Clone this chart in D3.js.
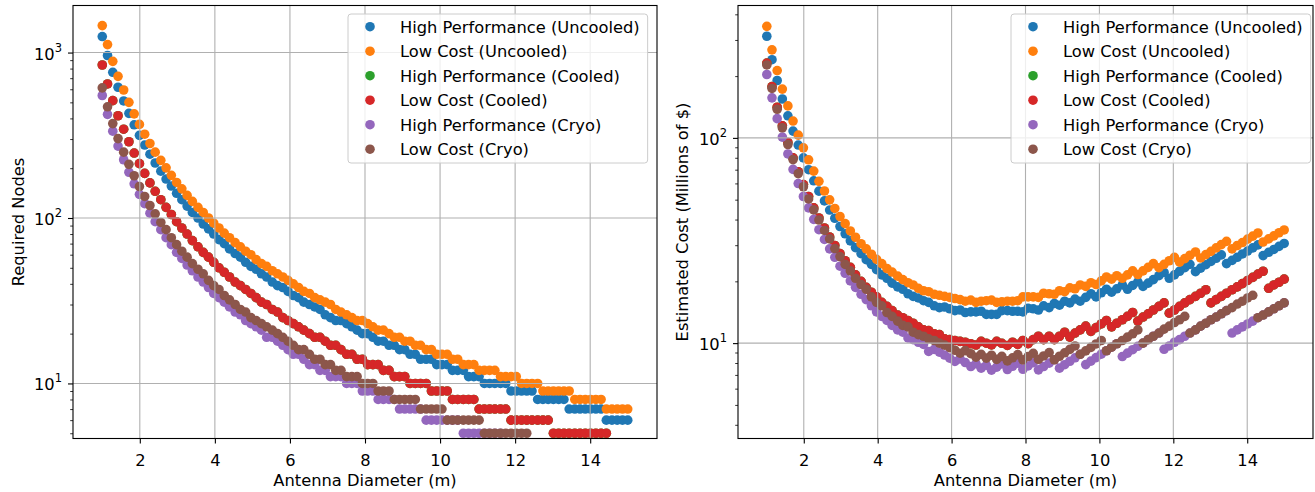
<!DOCTYPE html>
<html>
<head>
<meta charset="utf-8">
<script src="https://cdn.jsdelivr.net/npm/d3@7"></script>
<style>
    body { margin: 0; background: #fff; }
    svg { display: block; font-family: "DejaVu Sans", sans-serif; }
</style>
</head>
<body>
<svg id="chart" width="1315" height="492"></svg>
<script>
const antennaDiameter = [
    1.00, 1.14, 1.28, 1.42, 1.57, 1.71, 1.85, 1.99, 2.13, 2.27,
    2.41, 2.56, 2.70, 2.84, 2.98, 3.12, 3.26, 3.40, 3.55, 3.69,
    3.83, 3.97, 4.11, 4.25, 4.39, 4.54, 4.68, 4.82, 4.96, 5.10,
    5.24, 5.38, 5.53, 5.67, 5.81, 5.95, 6.09, 6.23, 6.37, 6.52,
    6.66, 6.80, 6.94, 7.08, 7.22, 7.36, 7.51, 7.65, 7.79, 7.93,
    8.07, 8.21, 8.35, 8.49, 8.64, 8.78, 8.92, 9.06, 9.20, 9.34,
    9.48, 9.63, 9.77, 9.91, 10.05, 10.19, 10.33, 10.47, 10.62, 10.76,
    10.90, 11.04, 11.18, 11.32, 11.46, 11.61, 11.75, 11.89, 12.03, 12.17,
    12.31, 12.45, 12.60, 12.74, 12.88, 13.02, 13.16, 13.30, 13.44, 13.59,
    13.73, 13.87, 14.01, 14.15, 14.29, 14.43, 14.58, 14.72, 14.86, 15.00
];

const seriesNames = [
    'High Performance (Uncooled)', 'Low Cost (Uncooled)',
    'High Performance (Cooled)', 'Low Cost (Cooled)',
    'High Performance (Cryo)', 'Low Cost (Cryo)'
];
const seriesColors = ['#1f77b4', '#ff7f0e', '#2ca02c', '#d62728', '#9467bd', '#8c564b'];

// required nodes (points below the axis floor are not drawn in the original)
const nodesHPUncooled = [
    1250, 960, 760, 617, 510, 429, 366, 316, 276, 243,
    215, 192, 172, 156, 141, 129, 118, 108, 100, 92,
    86, 80, 74, 70, 65, 61, 58, 54, 51, 49,
    46, 44, 41, 39, 38, 36, 34, 33, 31, 30,
    29, 28, 26, 25, 24, 24, 23, 22, 21, 20,
    20, 19, 18, 18, 17, 17, 16, 16, 15, 15,
    14, 14, 14, 13, 13, 13, 12, 12, 12, 11,
    11, 11, 10, 10, 10, 10, 10, 9, 9, 9,
    9, 9, 8, 8, 8, 8, 8, 8, 7, 7,
    7, 7, 7, 7, 7, 6, 6, 6, 6, 6
];
const nodesLCUncooled = [
    1455, 1117, 885, 718, 594, 500, 426, 368, 321, 282,
    250, 223, 201, 181, 164, 150, 137, 126, 116, 108,
    100, 93, 87, 81, 76, 71, 67, 63, 60, 56,
    53, 51, 48, 46, 44, 42, 40, 38, 36, 35,
    33, 32, 31, 30, 28, 27, 26, 25, 24, 24,
    23, 22, 21, 21, 20, 19, 19, 18, 18, 17,
    17, 16, 16, 15, 15, 15, 14, 14, 13, 13,
    13, 12, 12, 12, 12, 11, 11, 11, 11, 10,
    10, 10, 10, 9, 9, 9, 9, 9, 9, 8,
    8, 8, 8, 8, 8, 7, 7, 7, 7, 7
];
const nodesHPCooled = [
    841, 646, 512, 415, 344, 289, 247, 213, 186, 163,
    145, 129, 116, 105, 95, 87, 80, 73, 67, 62,
    58, 54, 50, 47, 44, 41, 39, 37, 35, 33,
    31, 30, 28, 27, 25, 24, 23, 22, 21, 20,
    19, 19, 18, 17, 17, 16, 15, 15, 14, 14,
    13, 13, 13, 12, 12, 11, 11, 11, 10, 10,
    10, 10, 9, 9, 9, 9, 8, 8, 8, 8,
    8, 7, 7, 7, 7, 7, 7, 6, 6, 6,
    6, 6, 6, 6, 6, 5, 5, 5, 5, 5,
    5, 5, 5, 5, 5, 5, null, null, null, null
];
const nodesLCCooled = [
    841, 646, 512, 415, 344, 289, 247, 213, 186, 163,
    145, 129, 116, 105, 95, 87, 80, 73, 67, 62,
    58, 54, 50, 47, 44, 41, 39, 37, 35, 33,
    31, 30, 28, 27, 25, 24, 23, 22, 21, 20,
    19, 19, 18, 17, 17, 16, 15, 15, 14, 14,
    13, 13, 13, 12, 12, 11, 11, 11, 10, 10,
    10, 10, 9, 9, 9, 9, 8, 8, 8, 8,
    8, 7, 7, 7, 7, 7, 7, 6, 6, 6,
    6, 6, 6, 6, 6, 5, 5, 5, 5, 5,
    5, 5, 5, 5, 5, 5, null, null, null, null
];
const nodesHPCryo = [
    550, 423, 335, 272, 225, 189, 161, 139, 122, 107,
    95, 85, 76, 69, 62, 57, 52, 48, 44, 41,
    38, 35, 33, 31, 29, 27, 26, 24, 23, 22,
    21, 19, 19, 18, 17, 16, 15, 15, 14, 13,
    13, 12, 12, 11, 11, 11, 10, 10, 10, 9,
    9, 9, 8, 8, 8, 8, 7, 7, 7, 7,
    7, 6, 6, 6, 6, 6, 6, 6, 5, 5,
    5, 5, 5, 5, 5, 5, null, null, null, null,
    null, null, null, null, null, null, null, null, null, null,
    null, null, null, null, null, null, null, null, null, null
];
const nodesLCCryo = [
    612, 470, 372, 302, 250, 211, 180, 155, 135, 119,
    106, 94, 85, 76, 69, 63, 58, 53, 49, 46,
    42, 39, 37, 34, 32, 30, 28, 27, 25, 24,
    23, 22, 21, 20, 19, 18, 17, 16, 16, 15,
    14, 14, 13, 13, 12, 12, 11, 11, 11, 10,
    10, 10, 9, 9, 9, 8, 8, 8, 8, 8,
    7, 7, 7, 7, 7, 6, 6, 6, 6, 6,
    6, 6, 5, 5, 5, 5, 5, 5, 5, 5,
    5, null, null, null, null, null, null, null, null, null,
    null, null, null, null, null, null, null, null, null, null
];

// estimated cost, millions of $
const costHPUncooled = [
    312.8, 240.4, 190.4, 154.7, 128.1, 107.9, 92.3, 79.9, 70.0, 61.8,
    55.0, 49.3, 44.5, 40.6, 37.0, 34.1, 31.5, 29.2, 27.3, 25.5,
    24.2, 22.8, 21.5, 20.7, 19.6, 18.8, 18.3, 17.4, 16.9, 16.6,
    16.1, 15.8, 15.2, 14.9, 15.0, 14.7, 14.4, 14.5, 14.1, 14.2,
    14.2, 14.3, 13.8, 13.8, 13.8, 14.4, 14.4, 14.3, 14.3, 14.2,
    14.8, 14.7, 14.5, 15.2, 14.9, 15.6, 15.3, 16.0, 15.7, 16.4,
    16.0, 16.7, 17.4, 16.8, 17.6, 18.3, 17.7, 18.4, 19.2, 18.3,
    19.1, 19.9, 18.9, 19.6, 20.4, 21.3, 22.1, 20.7, 21.5, 22.4,
    23.3, 24.2, 22.3, 23.2, 24.1, 25.0, 25.9, 26.9, 24.4, 25.3,
    26.2, 27.2, 28.1, 29.1, 30.1, 26.7, 27.7, 28.6, 29.6, 30.6
];
const costLCUncooled = [
    349.5, 268.5, 212.8, 172.9, 143.2, 120.8, 103.1, 89.4, 78.2, 68.9,
    61.4, 55.1, 49.9, 45.3, 41.4, 38.2, 35.2, 32.8, 30.5, 28.8,
    27.1, 25.6, 24.4, 23.1, 22.2, 21.2, 20.4, 19.7, 19.2, 18.5,
    18.0, 17.8, 17.3, 17.1, 16.9, 16.7, 16.5, 16.3, 16.0, 16.2,
    15.8, 16.0, 16.1, 16.2, 15.8, 15.9, 16.0, 16.0, 16.1, 16.8,
    16.8, 16.8, 16.7, 17.5, 17.4, 17.3, 18.0, 17.8, 18.6, 18.4,
    19.2, 18.9, 19.7, 19.3, 20.1, 21.0, 20.5, 21.3, 20.7, 21.5,
    22.5, 21.6, 22.5, 23.4, 24.4, 23.3, 24.2, 25.2, 26.2, 24.8,
    25.8, 26.8, 27.8, 26.0, 27.0, 28.0, 29.1, 30.2, 31.3, 28.8,
    29.9, 30.9, 32.1, 33.2, 34.4, 31.1, 32.2, 33.3, 34.5, 35.6
];
const costHPCooled = [
    231.4, 177.9, 141.1, 114.5, 95.0, 79.9, 68.4, 59.2, 51.8, 45.6,
    40.7, 36.4, 32.9, 29.9, 27.3, 25.2, 23.4, 21.5, 20.0, 18.7,
    17.7, 16.8, 15.8, 15.1, 14.4, 13.7, 13.3, 12.9, 12.5, 12.0,
    11.6, 11.5, 11.1, 11.0, 10.5, 10.4, 10.3, 10.2, 10.1, 9.93,
    9.79, 10.2, 9.99, 9.80, 10.2, 9.98, 9.74, 10.1, 9.86, 10.3,
    9.94, 10.4, 10.8, 10.4, 10.8, 10.4, 10.8, 11.3, 10.7, 11.2,
    11.6, 12.1, 11.4, 11.9, 12.4, 12.9, 12.0, 12.5, 13.0, 13.5,
    14.1, 12.8, 13.4, 13.9, 14.5, 15.1, 15.7, 14.0, 14.5, 15.1,
    15.7, 16.3, 16.9, 17.5, 18.2, 15.7, 16.3, 16.9, 17.5, 18.2,
    18.8, 19.5, 20.2, 20.9, 21.7, 22.4, 18.5, 19.2, 19.8, 20.5
];
const costLCCooled = [
    231.4, 177.9, 141.1, 114.5, 95.0, 79.9, 68.4, 59.2, 51.8, 45.6,
    40.7, 36.4, 32.9, 29.9, 27.3, 25.2, 23.4, 21.5, 20.0, 18.7,
    17.7, 16.8, 15.8, 15.1, 14.4, 13.7, 13.3, 12.9, 12.5, 12.0,
    11.6, 11.5, 11.1, 11.0, 10.5, 10.4, 10.3, 10.2, 10.1, 9.93,
    9.79, 10.2, 9.99, 9.80, 10.2, 9.98, 9.74, 10.1, 9.86, 10.3,
    9.94, 10.4, 10.8, 10.4, 10.8, 10.4, 10.8, 11.3, 10.7, 11.2,
    11.6, 12.1, 11.4, 11.9, 12.4, 12.9, 12.0, 12.5, 13.0, 13.5,
    14.1, 12.8, 13.4, 13.9, 14.5, 15.1, 15.7, 14.0, 14.5, 15.1,
    15.7, 16.3, 16.9, 17.5, 18.2, 15.7, 16.3, 16.9, 17.5, 18.2,
    18.8, 19.5, 20.2, 20.9, 21.7, 22.4, 18.5, 19.2, 19.8, 20.5
];
const costHPCryo = [
    203.6, 156.7, 124.1, 100.9, 83.5, 70.2, 59.9, 51.8, 45.6, 40.1,
    35.7, 32.0, 28.8, 26.2, 23.7, 21.9, 20.1, 18.7, 17.3, 16.3,
    15.2, 14.2, 13.5, 12.9, 12.2, 11.6, 11.3, 10.6, 10.4, 10.1,
    9.85, 9.11, 9.32, 9.04, 8.75, 8.45, 8.14, 8.37, 8.04, 7.69,
    7.93, 7.55, 7.80, 7.39, 7.64, 7.91, 7.44, 7.71, 7.99, 7.46,
    7.74, 8.03, 7.41, 7.69, 7.99, 8.30, 7.55, 7.85, 8.16, 8.48,
    8.82, 7.86, 8.17, 8.50, 8.83, 9.18, 9.55, 9.93, 8.60, 8.94,
    9.29, 9.65, 10.0, 10.4, 10.8, 11.2, 9.33, 9.69, 10.1, 10.4,
    10.8, 11.2, 11.6, 12.1, 12.5, 13.0, 13.4, 13.9, 14.4, 11.2,
    11.6, 12.0, 12.4, 12.8, 13.3, 13.7, 14.2, 14.7, 15.2, 15.7
];
const costLCCryo = [
    226.6, 174.1, 137.8, 112.0, 92.8, 78.4, 67.0, 57.8, 50.4, 44.6,
    39.8, 35.4, 32.2, 28.9, 26.4, 24.2, 22.5, 20.7, 19.3, 18.3,
    16.8, 15.8, 15.2, 14.1, 13.5, 12.8, 12.2, 12.0, 11.3, 11.0,
    10.8, 10.5, 10.3, 10.0, 9.78, 9.51, 9.23, 8.93, 9.19, 8.88,
    8.54, 8.81, 8.45, 8.73, 8.33, 8.62, 8.19, 8.48, 8.79, 8.29,
    8.60, 8.92, 8.33, 8.66, 8.99, 8.30, 8.63, 8.97, 9.32, 9.69,
    8.82, 9.17, 9.53, 9.91, 10.3, 9.18, 9.55, 9.93, 10.3, 10.7,
    11.1, 11.6, 10.0, 10.4, 10.8, 11.2, 11.7, 12.1, 12.6, 13.0,
    13.5, 11.2, 11.6, 12.1, 12.5, 13.0, 13.4, 13.9, 14.4, 14.9,
    15.5, 16.0, 16.6, 17.1, 13.3, 13.7, 14.2, 14.7, 15.2, 15.7
];

const xTicks = [2, 4, 6, 8, 10, 12, 14];
const nodesTicks = [10, 100, 1000];
const costTicks = [10, 100];

const FONT = '"DejaVu Sans", sans-serif';
const FONT_SIZE = 16.3;
const TOP = 5.5, BOTTOM = 438.5;

const svg = d3.select('#chart');

const styleAxis = g => {
    g.select('.domain').remove();
    g.attr('font-family', FONT).attr('font-size', FONT_SIZE);
    g.selectAll('line').attr('stroke', '#000').attr('stroke-width', 1.1);
};

const drawPanel = ({ x0, x1, yDomain, yTicks, yLabel, yLabelX, values, clipId, legendX }) => {
    const
        xScale = d3.scaleLinear().domain([0.22, 15.78]).range([x0, x1]),
        yScale = d3.scaleLog().domain(yDomain).range([BOTTOM, TOP]);

    svg.append('clipPath').attr('id', clipId)
        .append('rect')
        .attr('x', x0).attr('y', TOP)
        .attr('width', x1 - x0).attr('height', BOTTOM - TOP);

    const points = svg.append('g').attr('clip-path', `url(#${clipId})`);

    values.forEach((series, s) => {
        points
            .append('g')
            .selectAll('circle')
            .data(antennaDiameter.map((d, i) => ({ d, v: series[i] })).filter(({ v }) => v !== null))
            .join('circle')
            .attr('cx', ({ d }) => xScale(d))
            .attr('cy', ({ v }) => yScale(v))
            .attr('r', 4.8)
            .attr('fill', seriesColors[s]);
    });

    // grid sits above the markers, like matplotlib's default
    const grid = svg.append('g').attr('stroke', '#b0b0b0').attr('stroke-width', 1.1);
    xTicks.forEach(t => grid.append('line')
        .attr('x1', xScale(t)).attr('x2', xScale(t))
        .attr('y1', TOP).attr('y2', BOTTOM));
    yTicks.forEach(t => grid.append('line')
        .attr('x1', x0).attr('x2', x1)
        .attr('y1', yScale(t)).attr('y2', yScale(t)));

    svg.append('g')
        .attr('transform', `translate(0,${BOTTOM})`)
        .call(d3.axisBottom(xScale).tickValues(xTicks).tickSize(5).tickFormat(d3.format('d')))
        .call(styleAxis)
        .call(g => g.selectAll('text').attr('fill', '#000').attr('y', 27).attr('dy', null));

    const minorTicks = [];
    [0, 1, 2, 3].forEach(k => d3.range(2, 10).forEach(m => {
        const v = m * Math.pow(10, k);
        if (v > yDomain[0] && v < yDomain[1]) minorTicks.push(v);
    }));

    svg.append('g')
        .attr('transform', `translate(${x0},0)`)
        .call(d3.axisLeft(yScale).tickValues(minorTicks).tickSize(2.8).tickFormat(''))
        .call(styleAxis)
        .call(g => g.selectAll('line').attr('stroke-width', 0.8));

    svg.append('g')
        .attr('transform', `translate(${x0},0)`)
        .call(d3.axisLeft(yScale).tickValues(yTicks).tickSize(5).tickFormat(''))
        .call(styleAxis);

    yTicks.forEach(t => {
        const label = svg.append('text')
            .attr('x', x0 - 11)
            .attr('y', yScale(t) + 7)
            .attr('text-anchor', 'end')
            .attr('font-family', FONT)
            .attr('font-size', FONT_SIZE)
            .attr('fill', '#000');
        label.append('tspan').text('10');
        label.append('tspan')
            .attr('dy', -8)
            .attr('font-size', 11.5)
            .text(Math.round(Math.log10(t)));
    });

    svg.append('rect')
        .attr('x', x0).attr('y', TOP)
        .attr('width', x1 - x0).attr('height', BOTTOM - TOP)
        .attr('fill', 'none')
        .attr('stroke', '#000')
        .attr('stroke-width', 1.1);

    svg.append('text')
        .attr('x', (x0 + x1) / 2)
        .attr('y', 486)
        .attr('text-anchor', 'middle')
        .attr('font-family', FONT)
        .attr('font-size', FONT_SIZE)
        .text('Antenna Diameter (m)');

    svg.append('text')
        .attr('transform', `translate(${yLabelX},${(TOP + BOTTOM) / 2}) rotate(-90)`)
        .attr('dy', '0.35em')
        .attr('text-anchor', 'middle')
        .attr('font-family', FONT)
        .attr('font-size', FONT_SIZE)
        .text(yLabel);

    // legend
    const legend = svg.append('g');
    const frame = legend.append('rect')
        .attr('x', legendX).attr('y', 14)
        .attr('height', 149)
        .attr('rx', 3)
        .attr('fill', 'rgba(255, 255, 255, 0.8)')
        .attr('stroke', '#cccccc')
        .attr('stroke-width', 1);

    let widest = 0;
    seriesNames.forEach((name, s) => {
        const cy = 26.7 + s * 24.5;
        legend.append('circle')
            .attr('cx', legendX + 22).attr('cy', cy)
            .attr('r', 4.8)
            .attr('fill', seriesColors[s]);
        const text = legend.append('text')
            .attr('x', legendX + 52).attr('y', cy + 5.8)
            .attr('font-family', FONT)
            .attr('font-size', FONT_SIZE)
            .attr('fill', '#000')
            .text(name);
        widest = Math.max(widest, text.node().getComputedTextLength());
    });
    frame.attr('width', 52 + widest + 8);
};

drawPanel({
    x0: 73, x1: 657,
    yDomain: [4.647, 1925],
    yTicks: nodesTicks,
    yLabel: 'Required Nodes',
    yLabelX: 18,
    values: [nodesHPUncooled, nodesLCUncooled, nodesHPCooled, nodesLCCooled, nodesHPCryo, nodesLCCryo],
    clipId: 'clip-nodes',
    legendX: 348
});

drawPanel({
    x0: 738, x1: 1313,
    yDomain: [3.43, 441.6],
    yTicks: costTicks,
    yLabel: 'Estimated Cost (Millions of $)',
    yLabelX: 682,
    values: [costHPUncooled, costLCUncooled, costHPCooled, costLCCooled, costHPCryo, costLCCryo],
    clipId: 'clip-cost',
    legendX: 1011
});
</script>
</body>
</html>
